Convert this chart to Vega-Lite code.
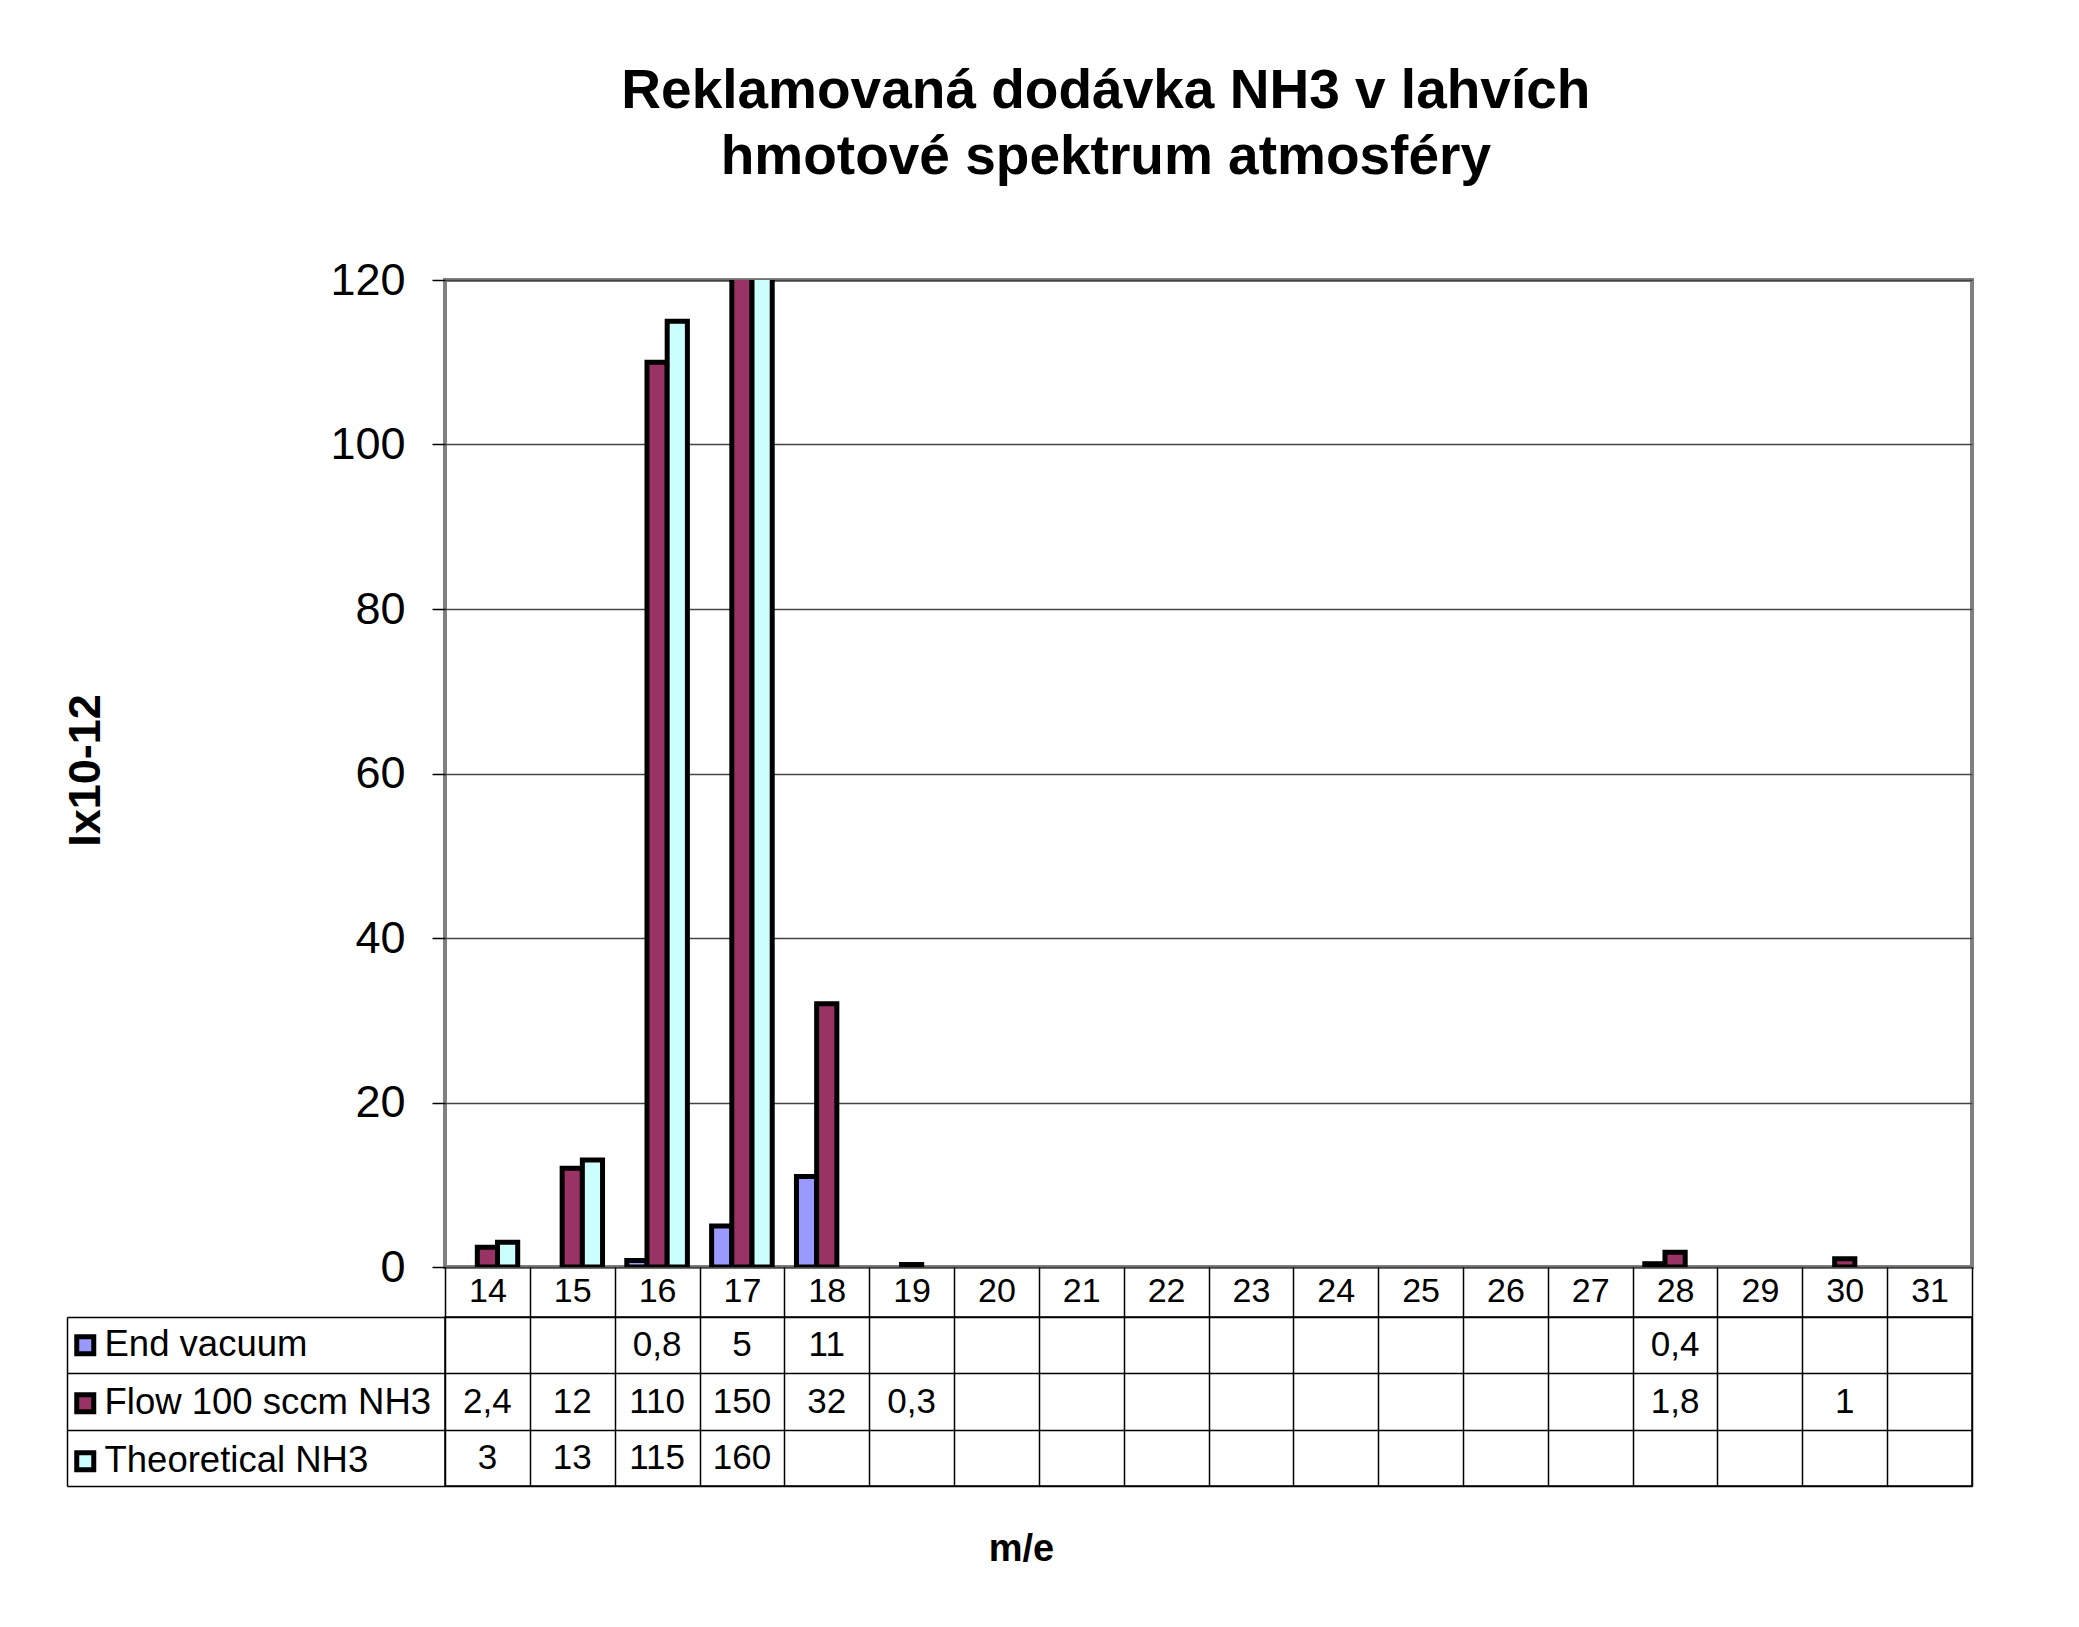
{
  "$schema": "https://vega.github.io/schema/vega-lite/v6.json",
  "description": "Reklamovaná dodávka NH3 v lahvích - hmotové spektrum atmosféry",
  "background": "white",
  "padding": {"left": 61, "top": 64, "right": 100, "bottom": 40},
  "autosize": {"type": "pad"},
  "title": {
    "text": ["Reklamovaná dodávka NH3 v lahvích", "hmotové spektrum atmosféry"],
    "font": "Liberation Sans",
    "fontSize": 55,
    "fontWeight": "bold",
    "color": "black",
    "lineHeight": 66,
    "anchor": "middle",
    "frame": "bounds",
    "dx": 88,
    "offset": 70
  },
  "datasets": {
    "spectrum": [
      {"me": 16, "series": "End vacuum", "value": 0.8},
      {"me": 17, "series": "End vacuum", "value": 5},
      {"me": 18, "series": "End vacuum", "value": 11},
      {"me": 28, "series": "End vacuum", "value": 0.4},
      {"me": 14, "series": "Flow 100 sccm NH3", "value": 2.4},
      {"me": 15, "series": "Flow 100 sccm NH3", "value": 12},
      {"me": 16, "series": "Flow 100 sccm NH3", "value": 110},
      {"me": 17, "series": "Flow 100 sccm NH3", "value": 150},
      {"me": 18, "series": "Flow 100 sccm NH3", "value": 32},
      {"me": 19, "series": "Flow 100 sccm NH3", "value": 0.3},
      {"me": 28, "series": "Flow 100 sccm NH3", "value": 1.8},
      {"me": 30, "series": "Flow 100 sccm NH3", "value": 1},
      {"me": 14, "series": "Theoretical NH3", "value": 3},
      {"me": 15, "series": "Theoretical NH3", "value": 13},
      {"me": 16, "series": "Theoretical NH3", "value": 115},
      {"me": 17, "series": "Theoretical NH3", "value": 160}
    ]
  },
  "bounds": "flush",
  "spacing": 50,
  "vconcat": [
    {
      "width": 1527,
      "height": 987,
      "view": {"stroke": "#808080", "strokeWidth": 4},
      "data": {"name": "spectrum"},
      "mark": {"type": "bar", "stroke": "black", "strokeWidth": 5, "clip": true},
      "encoding": {
        "x": {
          "field": "me",
          "type": "ordinal",
          "scale": {"domain": [14, 15, 16, 17, 18, 19, 20, 21, 22, 23, 24, 25, 26, 27, 28, 29, 30, 31], "paddingInner": 0, "paddingOuter": 0},
          "axis": {
            "title": null,
            "domain": false,
            "grid": false,
            "tickBand": "extent",
            "tickSize": 50,
            "tickColor": "black",
            "tickWidth": 1.5,
            "labelAngle": 0,
            "labelFontSize": 34,
            "labelBaseline": "middle",
            "labelPadding": -26
          }
        },
        "xOffset": {
          "field": "series",
          "type": "nominal",
          "scale": {"domain": ["End vacuum", "Flow 100 sccm NH3", "Theoretical NH3"], "paddingInner": 0, "paddingOuter": 0.6}
        },
        "y": {
          "field": "value",
          "type": "quantitative",
          "scale": {"domain": [0, 120], "nice": false},
          "axis": {
            "title": "Ix10-12",
            "values": [0, 20, 40, 60, 80, 100, 120],
            "domain": false,
            "grid": true,
            "gridColor": "#444444",
            "gridWidth": 1.5,
            "tickSize": 13,
            "tickColor": "black",
            "tickWidth": 1.5,
            "labelFontSize": 45,
            "labelPadding": 27,
            "titleFontSize": 45,
            "titleFontWeight": "bold",
            "titleX": -360,
            "titleY": 490,
            "titleAngle": -90,
            "titleAlign": "center",
            "titleBaseline": "middle"
          }
        },
        "color": {
          "field": "series",
          "type": "nominal",
          "scale": {"domain": ["End vacuum", "Flow 100 sccm NH3", "Theoretical NH3"], "range": ["#9999ff", "#993366", "#ccffff"]},
          "legend": {
            "title": null,
            "orient": "none",
            "legendX": -378,
            "legendY": 1047,
            "padding": 0,
            "symbolType": "square",
            "symbolSize": 289,
            "symbolStrokeColor": "black",
            "symbolStrokeWidth": 5,
            "labelFontSize": 36.5,
            "labelColor": "black",
            "labelOffset": 1,
            "rowPadding": 20,
            "labelLimit": 0
          }
        }
      }
    },
    {
      "width": 1527,
      "height": 169,
      "view": {"stroke": "black", "strokeWidth": 1.5},
      "data": {"name": "spectrum"},
      "layer": [
        {
          "mark": {"type": "text", "fontSize": 35, "color": "black"},
          "encoding": {
            "x": {
              "field": "me",
              "type": "ordinal",
              "scale": {"domain": [14, 15, 16, 17, 18, 19, 20, 21, 22, 23, 24, 25, 26, 27, 28, 29, 30, 31], "paddingInner": 0, "paddingOuter": 0},
              "axis": {
                "title": "m/e",
                "labels": false,
                "ticks": false,
                "domain": false,
                "grid": true,
                "gridColor": "black",
                "gridWidth": 1.5,
                "tickBand": "extent",
                "titleFontSize": 38,
                "titleFontWeight": "bold",
                "titleX": 576,
                "titleY": 74,
                "titleBaseline": "alphabetic"
              }
            },
            "y": {
              "field": "series",
              "type": "nominal",
              "scale": {"domain": ["End vacuum", "Flow 100 sccm NH3", "Theoretical NH3"], "paddingInner": 0, "paddingOuter": 0},
              "axis": {
                "title": null,
                "labels": false,
                "domain": false,
                "grid": true,
                "gridColor": "black",
                "gridWidth": 1.5,
                "tickBand": "extent",
                "tickSize": 378,
                "tickColor": "black",
                "tickWidth": 1.5
              }
            },
            "text": {"field": "value", "type": "quantitative", "format": "~g"}
          }
        },
        {
          "mark": {"type": "point", "opacity": 0},
          "encoding": {
            "x": {"field": "me", "type": "ordinal"},
            "y": {
              "field": "series",
              "type": "nominal",
              "scale": {"domain": ["End vacuum", "Flow 100 sccm NH3", "Theoretical NH3"], "paddingInner": 0, "paddingOuter": 0},
              "axis": {
                "orient": "left",
                "offset": 378,
                "title": null,
                "labels": false,
                "ticks": false,
                "grid": false,
                "domain": true,
                "domainColor": "black",
                "domainWidth": 1.5
              }
            }
          }
        }
      ],
      "resolve": {"scale": {"y": "independent"}, "axis": {"y": "independent"}}
    }
  ],
  "config": {
    "font": "Liberation Sans",
    "locale": {"number": {"decimal": ",", "thousands": " ", "grouping": [3], "currency": ["", " Kč"]}},
    "axis": {"labelColor": "black", "titleColor": "black", "labelFont": "Liberation Sans", "titleFont": "Liberation Sans"},
    "legend": {"labelFont": "Liberation Sans"}
  }
}
